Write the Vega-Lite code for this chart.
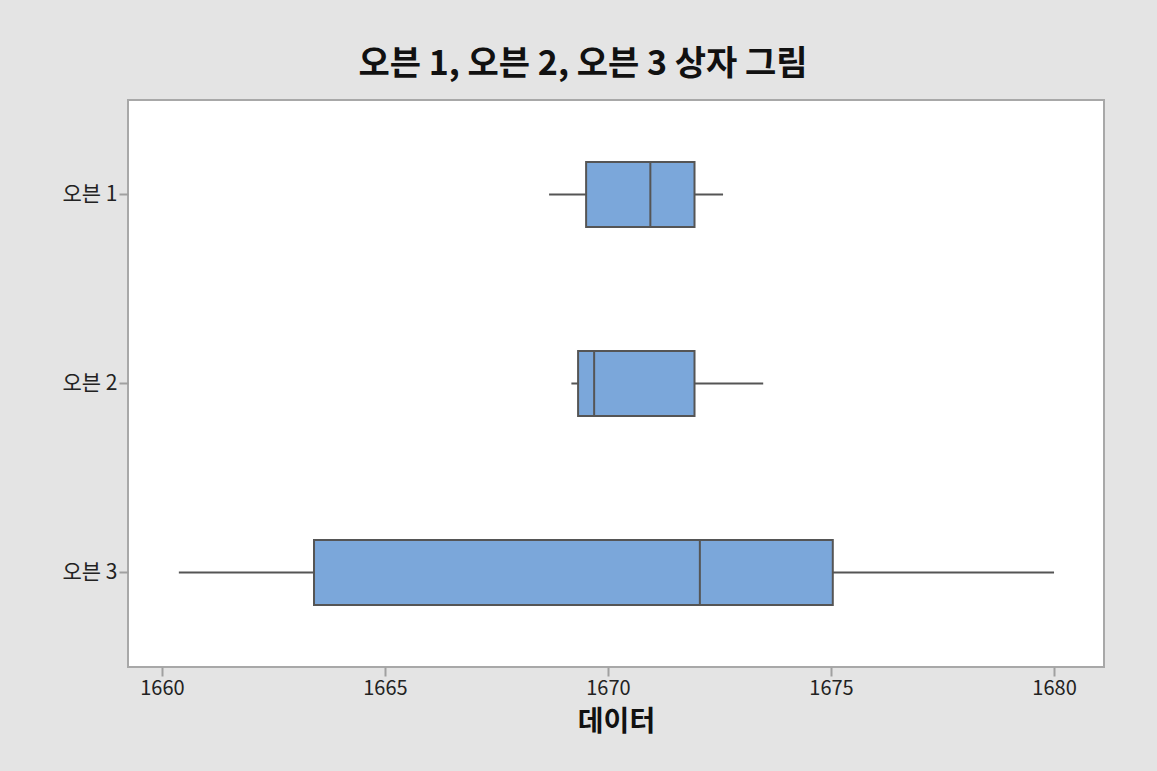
{
  "$schema": "https://vega.github.io/schema/vega-lite/v6.json",
  "autosize": {"type": "none"},
  "width": 976,
  "height": 567,
  "padding": {"left": 128, "top": 100, "right": 53, "bottom": 104},
  "background": "#e4e4e4",
  "title": {
    "text": "오븐 1, 오븐 2, 오븐 3 상자 그림",
    "font": "Noto Sans CJK KR",
    "fontSize": 34,
    "fontWeight": "bold",
    "color": "#111111",
    "anchor": "middle",
    "frame": "bounds",
    "offset": 18
  },
  "config": {
    "view": {"fill": "white", "stroke": "#a8a8a8", "strokeWidth": 2},
    "axis": {
      "labelFont": "Noto Sans CJK KR",
      "titleFont": "Noto Sans CJK KR",
      "labelColor": "#222222",
      "tickColor": "#a0a0a0",
      "tickWidth": 2,
      "domain": false,
      "grid": false
    }
  },
  "data": {
    "values": [
      {"oven": "오븐 1", "low": 1668.68, "q1": 1669.51, "median": 1670.95, "q3": 1671.94, "high": 1672.58},
      {"oven": "오븐 2", "low": 1669.18, "q1": 1669.33, "median": 1669.69, "q3": 1671.94, "high": 1673.48},
      {"oven": "오븐 3", "low": 1660.38, "q1": 1663.41, "median": 1672.06, "q3": 1675.04, "high": 1680.0}
    ]
  },
  "encoding": {
    "y": {
      "field": "oven",
      "type": "nominal",
      "scale": {"paddingInner": 0, "paddingOuter": 0},
      "axis": {"title": null, "labelFontSize": 21, "tickSize": 9, "labelPadding": 2}
    }
  },
  "layer": [
    {
      "mark": {"type": "rule", "color": "#555555", "strokeWidth": 2},
      "encoding": {
        "x": {
          "field": "low",
          "type": "quantitative",
          "scale": {"domain": [1659.24, 1681.12], "nice": false, "zero": false},
          "axis": {
            "values": [1660, 1665, 1670, 1675, 1680],
            "title": "데이터",
            "titleFontSize": 28,
            "titleFontWeight": "bold",
            "titleColor": "#111111",
            "titlePadding": 10,
            "labelFontSize": 20,
            "tickSize": 9,
            "labelPadding": 2,
            "format": "d"
          }
        },
        "x2": {"field": "high"}
      }
    },
    {
      "mark": {"type": "bar", "size": 65, "fill": "#7ba7da", "stroke": "#555555", "strokeWidth": 2},
      "encoding": {
        "x": {"field": "q1", "type": "quantitative"},
        "x2": {"field": "q3"}
      }
    },
    {
      "mark": {"type": "tick", "orient": "vertical", "size": 65, "thickness": 2, "color": "#555555", "opacity": 1},
      "encoding": {
        "x": {"field": "median", "type": "quantitative"}
      }
    }
  ]
}
